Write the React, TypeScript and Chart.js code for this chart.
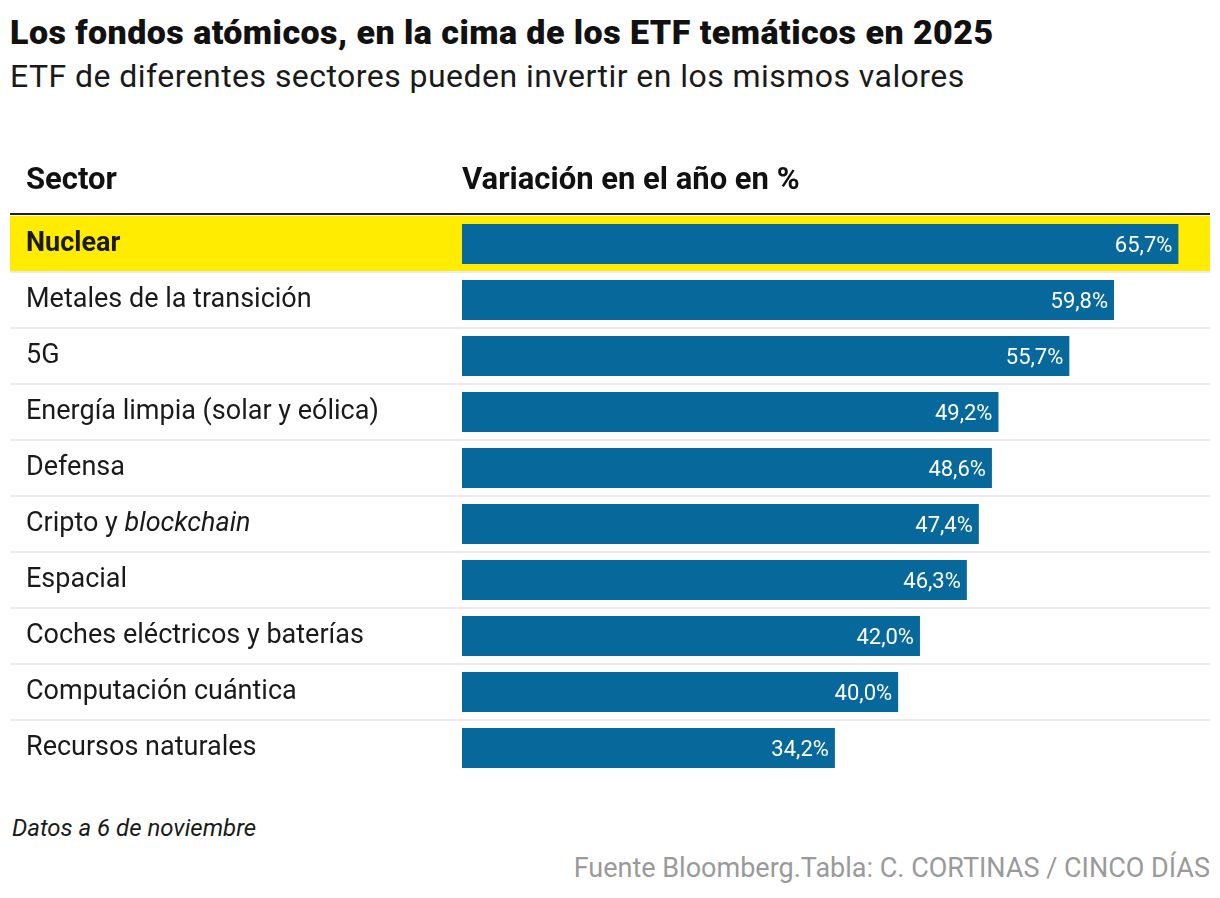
import React, { useEffect, useRef } from "react";
import { Chart, registerables } from "chart.js";

Chart.register(...registerables);

const categories = [
  "Nuclear",
  "Metales de la transición",
  "5G",
  "Energía limpia (solar y eólica)",
  "Defensa",
  "Cripto y blockchain",
  "Espacial",
  "Coches eléctricos y baterías",
  "Computación cuántica",
  "Recursos naturales",
];
const values = [65.7, 59.8, 55.7, 49.2, 48.6, 47.4, 46.3, 42.0, 40.0, 34.2];
const highlighted = ["Nuclear"];
const italicWords = ["blockchain"];
const headerSector = "Sector";
const headerValue = "Variación en el año en %";

const FONT = "Roboto, 'Noto Sans', sans-serif";
const BLUE = "#07689b";
const YELLOW = "#ffec00";

const fmt = (v: number) => v.toFixed(1).replace(".", ",") + "%";

const tablePlugin = {
  id: "tablePlugin",
  beforeDatasetsDraw(chart: any) {
    const { ctx, chartArea, scales } = chart;
    const y = scales.y;
    const left = 10;
    const right = chart.width - 10;
    const band = y.getPixelForValue(1) - y.getPixelForValue(0);
    ctx.save();
    categories.forEach((c, i) => {
      const cy = y.getPixelForValue(i);
      if (highlighted.includes(c)) {
        ctx.fillStyle = YELLOW;
        ctx.fillRect(left, cy - band / 2, right - left, band);
      }
    });
    ctx.fillStyle = "#ececec";
    for (let i = 0; i < categories.length - 1; i++) {
      const cy = y.getPixelForValue(i) + band / 2;
      ctx.fillRect(left, cy - 1, right - left, 2);
    }
    ctx.fillStyle = "#222";
    ctx.fillRect(left, chartArea.top - 3, right - left, 2);
    ctx.fillStyle = "#111";
    ctx.font = `bold 31px ${FONT}`;
    ctx.textBaseline = "alphabetic";
    ctx.textAlign = "left";
    ctx.fillText(headerSector, 26, chartArea.top - 27);
    ctx.fillText(headerValue, chartArea.left, chartArea.top - 27);
    categories.forEach((c, i) => {
      const cy = y.getPixelForValue(i);
      const bold = highlighted.includes(c);
      let x = 26;
      const words = c.split(" ");
      words.forEach((w, wi) => {
        const it = italicWords.includes(w);
        ctx.font = `${it ? "italic " : ""}${bold ? "bold " : ""}27px ${FONT}`;
        ctx.fillStyle = "#1a1a1a";
        const t = wi < words.length - 1 ? w + " " : w;
        ctx.fillText(t, x, cy + 7);
        x += ctx.measureText(t).width;
      });
    });
    ctx.restore();
  },
  afterDatasetsDraw(chart: any) {
    const { ctx, scales } = chart;
    const y = scales.y;
    const x = scales.x;
    ctx.save();
    ctx.fillStyle = "#ffffff";
    ctx.font = `22px ${FONT}`;
    ctx.textAlign = "right";
    ctx.textBaseline = "alphabetic";
    values.forEach((v, i) => {
      ctx.fillText(fmt(v), x.getPixelForValue(v) - 6, y.getPixelForValue(i) + 8);
    });
    ctx.restore();
  },
};

export default function App() {
  const ref = useRef<HTMLCanvasElement | null>(null);
  useEffect(() => {
    document.body.style.margin = "0";
    if (!ref.current) return;
    const chart = new Chart(ref.current, {
      type: "bar",
      data: {
        labels: categories,
        datasets: [
          {
            data: values,
            backgroundColor: BLUE,
            barPercentage: 0.715,
            categoryPercentage: 1,
          },
        ],
      },
      options: {
        indexAxis: "y",
        animation: false,
        responsive: true,
        maintainAspectRatio: false,
        layout: { padding: { left: 462, right: 10, top: 66, bottom: 14 } },
        scales: {
          x: { display: false, min: 0, max: 68.6 },
          y: { display: false },
        },
        plugins: { legend: { display: false }, tooltip: { enabled: false } },
      },
      plugins: [tablePlugin],
    });
    return () => chart.destroy();
  }, []);

  const base: React.CSSProperties = {
    position: "absolute",
    fontFamily: FONT,
    whiteSpace: "nowrap",
    margin: 0,
  };
  return (
    <div style={{ position: "relative", width: 1220, height: 898, background: "#fff", overflow: "hidden" }}>
      <div style={{ ...base, left: 10, top: 15, fontSize: 34, lineHeight: "34px", fontWeight: 900, letterSpacing: "0.45px", color: "#111" }}>
        Los fondos atómicos, en la cima de los ETF temáticos en 2025
      </div>
      <div style={{ ...base, left: 10, top: 60, fontSize: 32, lineHeight: "32px", letterSpacing: "0.45px", color: "#1a1a1a" }}>
        ETF de diferentes sectores pueden invertir en los mismos valores
      </div>
      <div style={{ position: "absolute", left: 0, top: 150, width: 1220, height: 640 }}>
        <canvas ref={ref} />
      </div>
      <div style={{ ...base, left: 12, top: 816, fontSize: 24, lineHeight: "24px", fontStyle: "italic", color: "#1a1a1a" }}>
        Datos a 6 de noviembre
      </div>
      <div style={{ ...base, right: 10, top: 855, fontSize: 27, lineHeight: "27px", color: "#9a9a9a" }}>
        Fuente Bloomberg.Tabla: C. CORTINAS / CINCO DÍAS
      </div>
    </div>
  );
}
